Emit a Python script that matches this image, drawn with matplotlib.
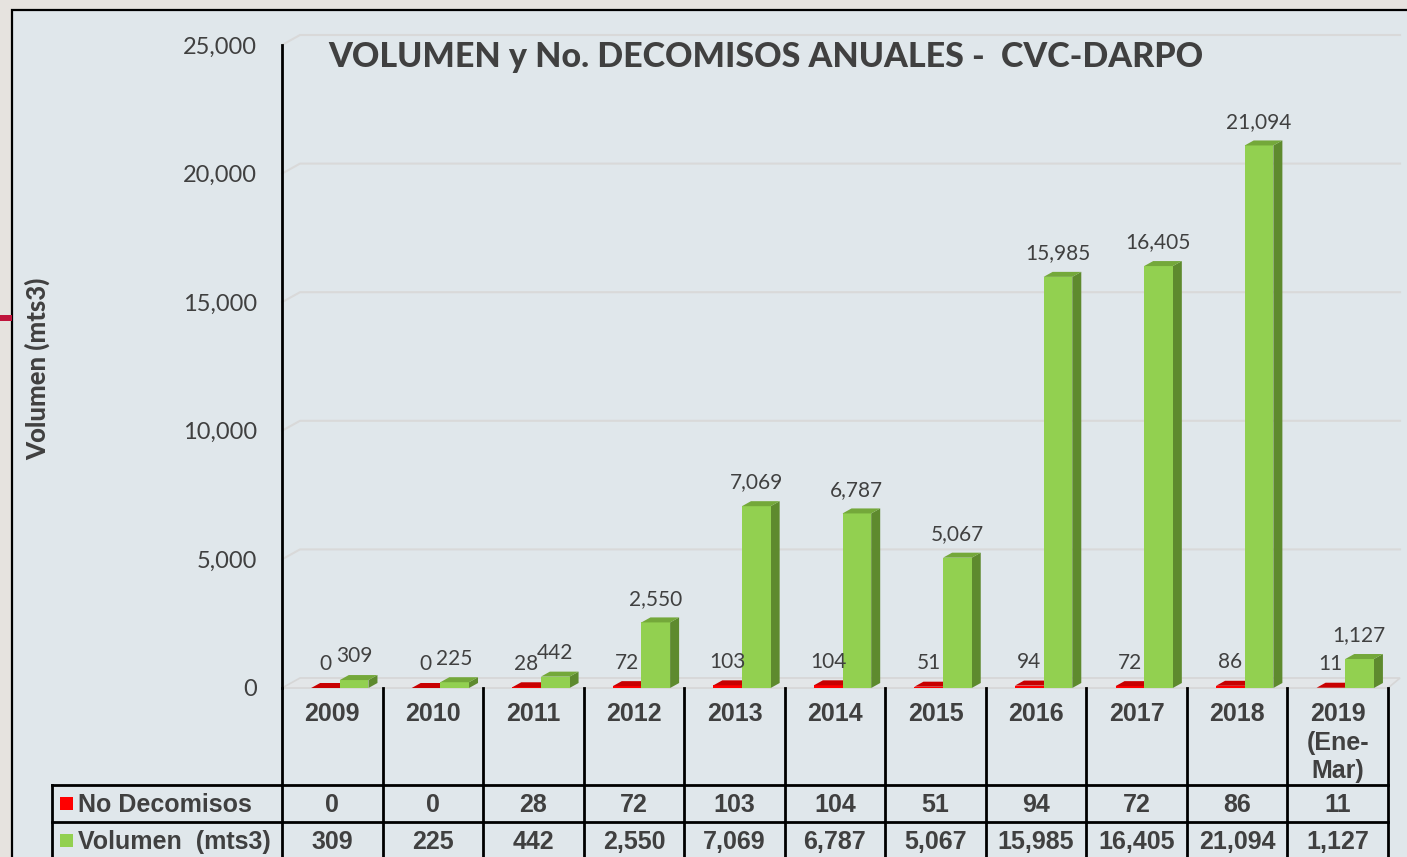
import matplotlib.pyplot as plt
from matplotlib.patches import Polygon, Rectangle
from matplotlib.transforms import blended_transform_factory

# data
years = ['2009', '2010', '2011', '2012', '2013', '2014', '2015', '2016',
         '2017', '2018', '2019\n(Ene-\nMar)']
decomisos = [0, 0, 28, 72, 103, 104, 51, 94, 72, 86, 11]
volumen = [309, 225, 442, 2550, 7069, 6787, 5067, 15985, 16405, 21094, 1127]
yticks = [0, 5000, 10000, 15000, 20000, 25000]
row_names = ['No Decomisos', 'Volumen  (mts3)']

W, H = 1407, 857
TXT = '#404040'
fig = plt.figure(figsize=(W / 100, H / 100), dpi=100)
fig.patch.set_facecolor('#e6e3df')

def fy(ypx):
    return 1 - ypx / H

# slide panel + small red mark on the left
fig.patches.append(Rectangle((12 / W, -0.1), 1.2, fy(10) + 0.1, transform=fig.transFigure,
                             facecolor='#e0e7eb', edgecolor='black', lw=1.6, zorder=-2))
fig.patches.append(Rectangle((0, fy(321)), 12 / W, 6 / H, transform=fig.transFigure,
                             facecolor='#c0143c', edgecolor='none', zorder=-1))

ax = fig.add_axes([282 / W, fy(688), (1388 - 282) / W, (688 - 45) / H])
ax.set_facecolor('none')
ax.set_xlim(-0.5, 10.5)
ax.set_ylim(0, 25000)
for s in ['top', 'right', 'bottom']:
    ax.spines[s].set_visible(False)
ax.spines['left'].set_color('black')
ax.spines['left'].set_linewidth(2)
ax.set_xticks([])
ax.set_yticks(yticks)
ax.set_yticklabels([f'{v:,}' for v in yticks], fontsize=17, family='Lato', color=TXT,
                   va='center_baseline')
ax.tick_params(axis='y', length=0, pad=18)

ux = 1 / 100.55          # data units per pixel (x)
uy = 25000 / 643         # data units per pixel (y)

# back wall gridlines and floor
wdx, wdy = 18 * ux, 10 * uy
ax.add_patch(Polygon([(-0.5, 0), (10.5, 0), (10.62, wdy), (-0.5 + wdx, wdy)], closed=True,
                     facecolor='#e3e6e8', edgecolor='#d6d6d6', lw=1.2, zorder=1, clip_on=False))
for t in yticks[1:]:
    ax.plot([-0.5, -0.5 + wdx, 10.62], [t, t + wdy, t + wdy], color='#d9d9d9', lw=1.5,
            zorder=1, clip_on=False)

bdx, bdy = 9 * ux, 5 * uy

def bar3d(x0, w, v, front, side, top):
    ax.add_patch(Rectangle((x0, 0), w, v, facecolor=front, edgecolor='none', zorder=3, clip_on=False))
    ax.add_patch(Polygon([(x0 + w, 0), (x0 + w + bdx, bdy), (x0 + w + bdx, v + bdy), (x0 + w, v)],
                         closed=True, facecolor=side, edgecolor='none', zorder=2, clip_on=False))
    ax.add_patch(Polygon([(x0, v), (x0 + bdx, v + bdy), (x0 + w + bdx, v + bdy), (x0 + w, v)],
                         closed=True, facecolor=top, edgecolor='none', zorder=3, clip_on=False))

bw = 0.285
for i, (d, v) in enumerate(zip(decomisos, volumen)):
    bar3d(i - 0.21, bw, d, '#ff0000', '#a00000', '#c80000')
    bar3d(i - 0.21 + bw, bw, v, '#92d050', '#5e8a2e', '#74a83a')
    ax.annotate(f'{d:,}', (i - 0.07, d), xytext=(0, 17), textcoords='offset points',
                ha='center', va='center', fontsize=15, family='Lato', color=TXT)
    ax.annotate(f'{v:,}', (i + 0.215, v), xytext=(0, 17), textcoords='offset points',
                ha='center', va='center', fontsize=15, family='Lato', color=TXT)

fig.text(328 / W, fy(57), 'VOLUMEN y No. DECOMISOS ANUALES -  CVC-DARPO', fontsize=24.5,
         fontweight='black', family='Lato', color=TXT, ha='left', va='center')
fig.text(38 / W, fy(369), 'Volumen (mts3)', rotation=90, fontsize=18.5, fontweight='black',
         family='Lato', color=TXT, ha='center', va='center')

# data table under the chart
tr = blended_transform_factory(ax.transData, fig.transFigure)
xl = (52 - 282) * ux - 0.5
for k in range(12):
    ax.plot([k - 0.5, k - 0.5], [fy(688), fy(860)], color='black', lw=2, transform=tr, clip_on=False)
ax.plot([xl, xl], [fy(785), fy(860)], color='black', lw=2, transform=tr, clip_on=False)
for yp in [785, 822]:
    ax.plot([xl, 10.5], [fy(yp), fy(yp)], color='black', lw=2, transform=tr, clip_on=False)

tfont = dict(family='Liberation Sans', fontweight='bold', fontsize=18, color=TXT)
for i, y in enumerate(years):
    ax.text(i, fy(702), y, ha='center', va='top', linespacing=1.24, transform=tr, **tfont)
    ax.text(i, fy(805), f'{decomisos[i]:,}', ha='center', va='center', transform=tr, **tfont)
    ax.text(i, fy(842), f'{volumen[i]:,}', ha='center', va='center', transform=tr, **tfont)

for yp, name, col in [(803, row_names[0], '#ff0000'), (840, row_names[1], '#92d050')]:
    fig.patches.append(Rectangle((60 / W, fy(yp + 7)), 13 / W, 13 / H, transform=fig.transFigure,
                                 facecolor=col, edgecolor='none', zorder=5))
    fig.text(78 / W, fy(yp + 2), name, ha='left', va='center', **tfont)

fig.savefig('out.png', dpi=100, facecolor=fig.get_facecolor())
